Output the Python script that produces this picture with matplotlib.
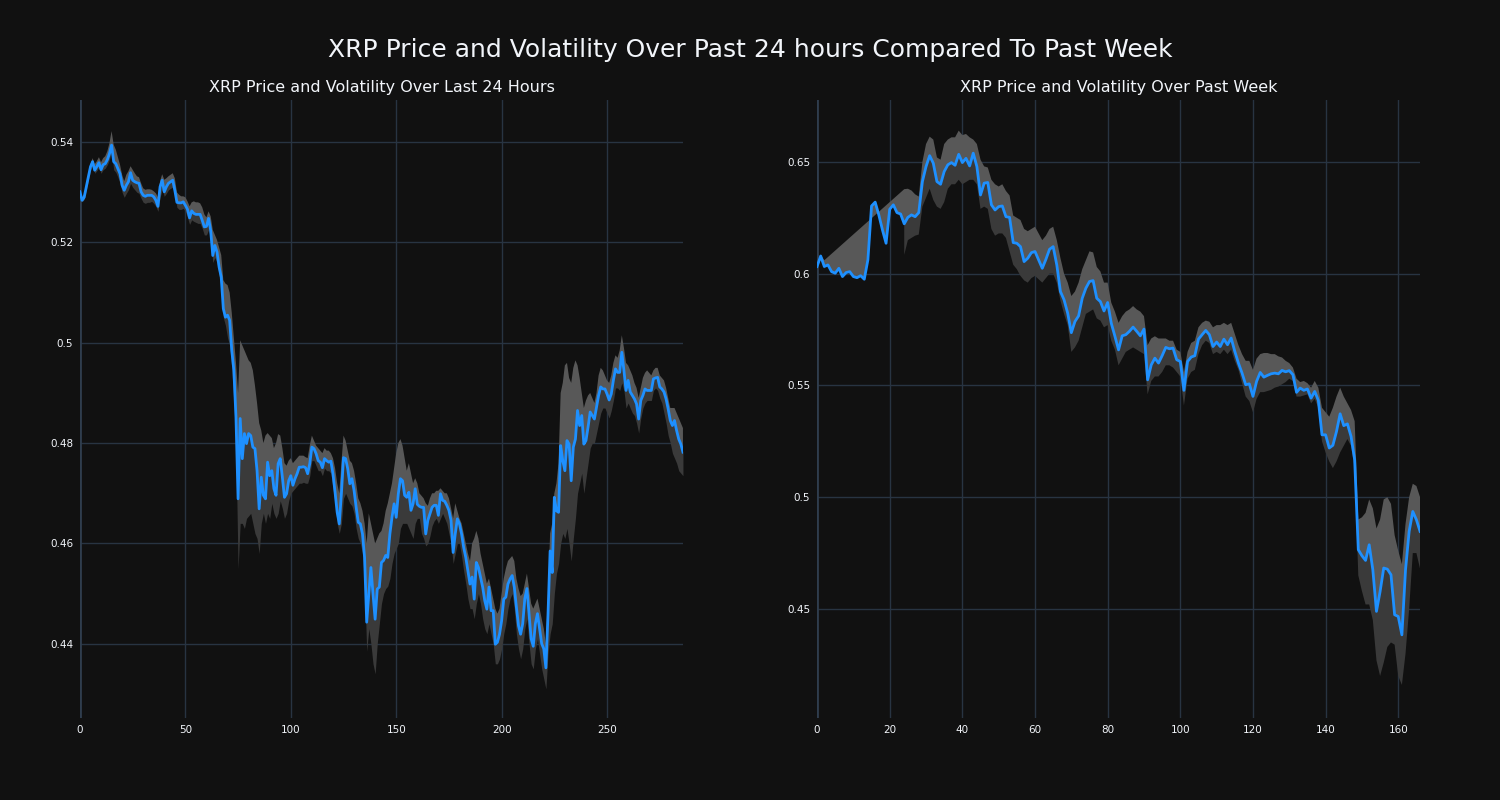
import matplotlib
matplotlib.use("Agg")
import matplotlib.pyplot as plt
import numpy as np

nan = np.nan

# --- last 24 hours (5 min steps) ---
day_price = [
    .5301, .5284, .5290, .5311, .5331, .5351, .5361, .5344, .5351, .5359,
    .5345, .5355, .5357, .5365, .5377, .5394, .5361, .5357, .5347, .5337,
    .5314, .5304, .5314, .5321, .5339, .5324, .5321, .5319, .5318, .5301,
    .5294, .5292, .5294, .5294, .5294, .5291, .5284, .5272, .5311, .5324,
    .5301, .5311, .5318, .5321, .5324, .5304, .5280, .5279, .5279, .5281,
    .5274, .5266, .5249, .5263, .5258, .5256, .5256, .5256, .5244, .5231,
    .5232, .5248, .5224, .5174, .5194, .5181, .5151, .5131, .5068, .5051,
    .5055, .5045, .4985, .4945, .4852, .4689, .4849, .4769, .4819, .4799,
    .4819, .4815, .4792, .4789, .4745, .4669, .4732, .4696, .4689, .4762,
    .4735, .4745, .4709, .4696, .4759, .4769, .4732, .4692, .4699, .4725,
    .4735, .4716, .4729, .4739, .4752, .4752, .4753, .4751, .4739, .4759,
    .4792, .4789, .4779, .4765, .4762, .4751, .4769, .4765, .4762, .4764,
    .4739, .4702, .4662, .4639, .4699, .4771, .4769, .4749, .4719, .4729,
    .4706, .4672, .4642, .4639, .4619, .4572, .4443, .4499, .4552, .4499,
    .4449, .4509, .4513, .4562, .4566, .4576, .4572, .4619, .4652, .4679,
    .4652, .4699, .4729, .4725, .4696, .4692, .4702, .4666, .4679, .4709,
    .4678, .4674, .4672, .4672, .4619, .4646, .4659, .4672, .4676, .4676,
    .4656, .4699, .4686, .4684, .4676, .4666, .4646, .4582, .4619, .4649,
    .4639, .4619, .4592, .4572, .4546, .4519, .4533, .4489, .4562, .4552,
    .4533, .4513, .4486, .4469, .4513, .4466, .4466, .4399, .4403, .4419,
    .4446, .4489, .4493, .4519, .4529, .4536, .4513, .4473, .4436, .4419,
    .4440, .4490, .4510, .4460, .4410, .4395, .4440, .4460, .4430, .4400,
    .4390, .4352, .4459, .4585, .4542, .4692, .4665, .4662, .4795, .4765,
    .4745, .4805, .4798, .4725, .4792, .4808, .4865, .4835, .4855, .4798,
    .4805, .4832, .4862, .4855, .4848, .4872, .4895, .4912, .4908, .4908,
    .4898, .4886, .4898, .4925, .4948, .4941, .4941, .4981, .4945, .4905,
    .4925, .4902, .4895, .4888, .4878, .4848, .4885, .4895, .4908, .4905,
    .4905, .4905, .4928, .4930, .4931, .4912, .4908, .4902, .4888, .4868,
    .4845, .4835, .4845, .4825, .4808, .4798, .4782,
]
day_upper = [
    .5305, .5290, .5296, .5316, .5336, .5356, .5368, .5356, .5362, .5370,
    .5360, .5368, .5372, .5382, .5398, .5422, .5395, .5385, .5370, .5355,
    .5335, .5322, .5335, .5342, .5352, .5345, .5338, .5332, .5330, .5318,
    .5308, .5305, .5306, .5306, .5305, .5302, .5298, .5290, .5322, .5336,
    .5325, .5328, .5332, .5335, .5338, .5328, .5300, .5295, .5292, .5292,
    .5290, .5282, .5272, .5280, .5282, .5280, .5280, .5278, .5270, .5256,
    .5250, .5262, .5252, .5225, .5215, .5205, .5190, .5175, .5125, .5118,
    .5115, .5100, .5060, .5010, .4960, .4900, .5005, .4995, .4985, .4975,
    .4965, .4960, .4945, .4915, .4880, .4840, .4825, .4800, .4815, .4820,
    .4815, .4810, .4790, .4800, .4818, .4815, .4790, .4760, .4755, .4765,
    .4770, .4760, .4765, .4770, .4775, .4775, .4775, .4772, .4770, .4795,
    .4815, .4805, .4795, .4790, .4785, .4780, .4790, .4785, .4785, .4780,
    .4770, .4750, .4720, .4700, .4760, .4815, .4805, .4785, .4765, .4760,
    .4745, .4720, .4690, .4680, .4665, .4640, .4600, .4660, .4640, .4620,
    .4600, .4610, .4620, .4625, .4640, .4665, .4680, .4700, .4720, .4750,
    .4780, .4800, .4808, .4795, .4770, .4745, .4760, .4740, .4720, .4730,
    .4720, .4700, .4695, .4690, .4680, .4675, .4690, .4700, .4700, .4705,
    .4705, .4710, .4705, .4700, .4700, .4690, .4670, .4650, .4680, .4665,
    .4650, .4640, .4620, .4600, .4580, .4565, .4600, .4610, .4625, .4610,
    .4580, .4560, .4540, .4520, .4530, .4510, .4490, .4470, .4460, .4470,
    .4500, .4530, .4550, .4565, .4570, .4575, .4565, .4530, .4510, .4495,
    .4500, .4520, .4540, .4510, .4480, .4470, .4480, .4490, .4470, .4450,
    .4430, .4400, .4500, .4620, .4640, .4700, .4720, .4760, .4900, .4920,
    .4955, .4960, .4930, .4920, .4950, .4965, .4955, .4930, .4900, .4870,
    .4885, .4895, .4900, .4890, .4880, .4900, .4935, .4950, .4945, .4935,
    .4925, .4920, .4935, .4960, .4975, .4970, .4985, .5015, .4990, .4960,
    .4955, .4945, .4935, .4920, .4910, .4890, .4910, .4930, .4940, .4945,
    .4940, .4935, .4945, .4950, .4950, .4935, .4930, .4925, .4910, .4890,
    .4870, .4870, .4870, .4860, .4850, .4840, .4830,
]
day_lower = [
    .5298, .5281, .5286, .5305, .5324, .5344, .5354, .5338, .5343, .5350,
    .5338, .5345, .5348, .5355, .5366, .5380, .5345, .5340, .5330, .5318,
    .5300, .5290, .5298, .5305, .5318, .5310, .5305, .5300, .5298, .5288,
    .5280, .5278, .5280, .5280, .5282, .5278, .5272, .5262, .5290, .5305,
    .5292, .5298, .5305, .5308, .5310, .5295, .5270, .5266, .5266, .5268,
    .5262, .5250, .5236, .5245, .5242, .5240, .5238, .5238, .5228, .5215,
    .5215, .5225, .5208, .5160, .5170, .5160, .5135, .5110, .5050, .5035,
    .5010, .4995, .4950, .4880, .4790, .4550, .4640, .4640, .4630, .4650,
    .4655, .4660, .4640, .4620, .4610, .4580, .4640, .4660, .4640, .4660,
    .4650, .4680, .4660, .4650, .4660, .4685, .4670, .4650, .4660, .4685,
    .4700, .4705, .4710, .4715, .4720, .4720, .4722, .4720, .4720, .4735,
    .4765, .4765, .4755, .4745, .4745, .4735, .4750, .4745, .4745, .4740,
    .4710, .4680, .4640, .4620, .4640, .4690, .4700, .4690, .4680, .4675,
    .4660, .4630, .4610, .4600, .4580, .4520, .4385, .4430, .4400, .4360,
    .4340, .4400, .4440, .4480, .4500, .4510, .4515, .4530, .4560, .4580,
    .4590, .4600, .4630, .4640, .4640, .4640, .4630, .4620, .4610, .4640,
    .4650, .4650, .4620, .4610, .4595, .4600, .4615, .4635, .4645, .4650,
    .4640, .4650, .4660, .4650, .4640, .4620, .4600, .4560, .4580, .4600,
    .4600, .4575, .4545, .4520, .4490, .4470, .4470, .4450, .4480, .4500,
    .4480, .4450, .4430, .4420, .4440, .4420, .4400, .4360, .4360, .4370,
    .4390, .4420, .4440, .4470, .4490, .4500, .4470, .4420, .4390, .4370,
    .4390, .4430, .4450, .4400, .4360, .4350, .4390, .4410, .4380, .4350,
    .4330, .4310, .4380, .4420, .4440, .4500, .4540, .4560, .4600, .4620,
    .4610, .4630, .4600, .4565, .4610, .4650, .4700, .4720, .4740, .4700,
    .4730, .4760, .4790, .4800, .4800, .4820, .4840, .4860, .4870, .4870,
    .4860, .4850, .4865, .4885, .4910, .4910, .4905, .4920, .4905, .4870,
    .4880, .4870, .4860, .4855, .4840, .4820, .4850, .4870, .4880, .4885,
    .4885, .4885, .4905, .4910, .4905, .4890, .4880, .4860, .4840, .4815,
    .4800, .4780, .4770, .4760, .4745, .4740, .4735,
]

# --- past week (hourly) ---
week_price = [
    .6032, .6079, .6032, .6039, .6009, .6002, .6024, .5987, .6005, .6009,
    .5987, .5982, .5991, .5975, .6062, .6303, .6320, .6263, .6196, .6136,
    .6288, .6308, .6273, .6267, .6223, .6252, .6263, .6255, .6273, .6412,
    .6479, .6528, .6494, .6412, .6400, .6457, .6487, .6497, .6485, .6534,
    .6497, .6516, .6482, .6539, .6479, .6352, .6405, .6408, .6308, .6285,
    .6300, .6303, .6255, .6252, .6139, .6136, .6121, .6054, .6069, .6094,
    .6099, .6062, .6024, .6064, .6109, .6121, .6039, .5920, .5883, .5823,
    .5736, .5786, .5811, .5890, .5935, .5965, .5969, .5890, .5875, .5833,
    .5871, .5778, .5720, .5659, .5722, .5727, .5742, .5761, .5742, .5722,
    .5752, .5525, .5592, .5622, .5600, .5633, .5670, .5664, .5667, .5615,
    .5607, .5478, .5607, .5627, .5633, .5707, .5727, .5746, .5727, .5674,
    .5694, .5674, .5707, .5682, .5712, .5652, .5600, .5555, .5503, .5507,
    .5451, .5518, .5558, .5537, .5545, .5552, .5555, .5552, .5567, .5561,
    .5566, .5548, .5469, .5488, .5478, .5484, .5443, .5473, .5433, .5279,
    .5279, .5220, .5232, .5294, .5373, .5320, .5328, .5272, .5167, .4765,
    .4738, .4717, .4787, .4675, .4489, .4578, .4683, .4678, .4653, .4474,
    .4466, .4384, .4675, .4847, .4936, .4899, .4847,
]
week_upper = [
    .6045, .6085, .6060, nan, nan, nan, nan, nan, nan, nan,
    nan, nan, nan, nan, nan, nan, nan, nan, nan, nan,
    nan, nan, nan, nan, .6378, .6380, .6372, .6355, .6345, .6500,
    .6580, .6613, .6600, .6520, .6510, .6580, .6600, .6610, .6610, .6640,
    .6620, .6625, .6610, .6600, .6580, .6510, .6480, .6475, .6420, .6400,
    .6390, .6400, .6370, .6350, .6260, .6250, .6240, .6200, .6190, .6200,
    .6210, .6180, .6150, .6170, .6200, .6210, .6150, .6070, .6000, .5960,
    .5900, .5920, .5960, .6020, .6060, .6100, .6095, .6030, .6010, .5960,
    .5960, .5870, .5830, .5780, .5810, .5830, .5840, .5855, .5840, .5830,
    .5810, .5680, .5710, .5720, .5710, .5710, .5710, .5700, .5700, .5660,
    .5650, .5560, .5650, .5690, .5700, .5760, .5780, .5790, .5785, .5760,
    .5770, .5770, .5780, .5770, .5780, .5730, .5680, .5640, .5610, .5610,
    .5570, .5620, .5640, .5645, .5645, .5640, .5640, .5630, .5625, .5610,
    .5600, .5580, .5530, .5515, .5520, .5510, .5490, .5520, .5490, .5400,
    .5380, .5360, .5400, .5450, .5490, .5450, .5420, .5390, .5340, .4900,
    .4910, .4930, .4990, .4950, .4860, .4900, .4990, .5000, .4970, .4830,
    .4760, .4700, .4880, .5000, .5060, .5050, .5000,
]
week_lower = [
    .6025, .6070, .6020, nan, nan, nan, nan, nan, nan, nan,
    nan, nan, nan, nan, nan, nan, nan, nan, nan, nan,
    nan, nan, nan, nan, .6084, .6150, .6160, .6170, .6175, .6300,
    .6340, .6380, .6330, .6300, .6290, .6320, .6380, .6400, .6400, .6420,
    .6400, .6410, .6420, .6420, .6400, .6290, .6300, .6290, .6200, .6170,
    .6180, .6180, .6160, .6100, .6040, .6020, .5990, .5970, .5960, .5980,
    .5990, .5975, .5960, .5980, .6000, .6000, .5960, .5880, .5820, .5770,
    .5650, .5670, .5700, .5760, .5820, .5830, .5840, .5800, .5790, .5760,
    .5770, .5700, .5660, .5590, .5620, .5650, .5660, .5670, .5660, .5650,
    .5640, .5460, .5520, .5540, .5540, .5560, .5590, .5590, .5580, .5560,
    .5540, .5410, .5530, .5560, .5570, .5640, .5680, .5700, .5690, .5640,
    .5650, .5640, .5660, .5640, .5660, .5610, .5570, .5510, .5450, .5430,
    .5380, .5440, .5470, .5470, .5475, .5480, .5490, .5495, .5505, .5515,
    .5530, .5520, .5450, .5450, .5455, .5460, .5420, .5440, .5400, .5250,
    .5200, .5160, .5130, .5160, .5200, .5230, .5260, .5230, .5130, .4650,
    .4580, .4520, .4520, .4450, .4270, .4200, .4260, .4330, .4350, .4340,
    .4200, .4160, .4300, .4500, .4750, .4750, .4680,
]

day_xticks = [0, 50, 100, 150, 200, 250]
day_yticks = [0.44, 0.46, 0.48, 0.5, 0.52, 0.54]
week_xticks = [0, 20, 40, 60, 80, 100, 120, 140, 160]
week_yticks = [0.45, 0.5, 0.55, 0.6, 0.65]

BG = "#111111"
GRID = "#283442"
TXT = "#f2f5fa"

plt.rcParams["font.family"] = ["DejaVu Sans"]

fig = plt.figure(figsize=(15, 8), dpi=100, facecolor=BG)
ax1 = fig.add_axes([0.0533, 0.1025, 0.402, 0.7725])
ax2 = fig.add_axes([0.5447, 0.1025, 0.402, 0.7725])


def draw(ax, price, upper, lower, xticks, yticks, ylim, title):
    price = np.array(price)
    upper = np.array(upper)
    lower = np.array(lower)
    x = np.arange(len(price))

    ax.set_facecolor(BG)
    ok = ~np.isnan(upper)
    # upper part of the band (gaps joined, like the original)
    ax.fill(np.concatenate([x[ok], x[::-1]]),
            np.concatenate([upper[ok], price[::-1]]),
            color="#585858", lw=0, zorder=2)
    ax.fill_between(x, lower, price, color="#3a3a3a", lw=0, zorder=2)
    ax.plot(x, price, color="#1E90FF", lw=2, zorder=3)

    ax.set_xlim(0, len(price) - 1)
    ax.set_ylim(*ylim)
    ax.set_xticks(xticks)
    ax.set_yticks(yticks)
    ax.set_yticklabels(["{:g}".format(v) for v in yticks])
    ax.grid(True, color=GRID, lw=1, zorder=0)
    ax.set_axisbelow(True)
    ax.axvline(0, color="#2f3d4d", lw=2, zorder=1)
    for s in ax.spines.values():
        s.set_visible(False)
    ax.tick_params(colors=TXT, labelsize=7.5, length=0, pad=5)
    ax.set_title(title, color=TXT, fontsize=11.5, pad=6)


draw(ax1, day_price, day_upper, day_lower, day_xticks, day_yticks,
     (0.4252, 0.5484), "XRP Price and Volatility Over Last 24 Hours")
draw(ax2, week_price, week_upper, week_lower, week_xticks, week_yticks,
     (0.4012, 0.6777), "XRP Price and Volatility Over Past Week")

fig.text(0.5, 1 - 50 / 800,
         "XRP Price and Volatility Over Past 24 hours Compared To Past Week",
         ha="center", va="center", color=TXT, fontsize=18)

fig.savefig("out.png", dpi=100, facecolor=BG)
